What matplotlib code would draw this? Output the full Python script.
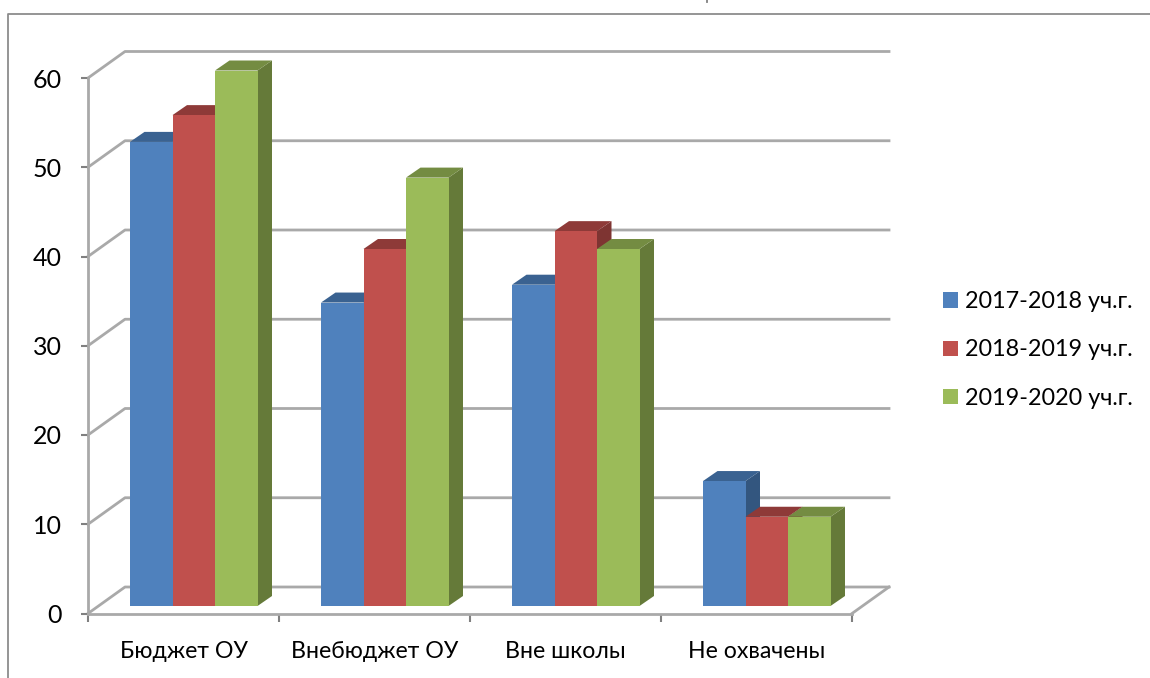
import matplotlib
matplotlib.use('Agg')
import matplotlib.pyplot as plt
from matplotlib.patches import Patch, Polygon

#data
categories = ['Бюджет ОУ', 'Внебюджет ОУ', 'Вне школы', 'Не охвачены']
series_names = ['2017-2018 уч.г.', '2018-2019 уч.г.', '2019-2020 уч.г.']
values_2017 = [52, 34, 36, 14]
values_2018 = [55, 40, 42, 10]
values_2019 = [60, 48, 40, 10]
y_ticks = [0, 10, 20, 30, 40, 50, 60]

#colors: front, top, side
colors = [('#4F81BD', '#3A6291', '#33567F'),
          ('#C0504D', '#8E3A38', '#7E3432'),
          ('#9BBB59', '#748C42', '#657A39')]
grid_color = '#A9A9A9'
plt.rcParams['font.family'] = ['Lato', 'Open Sans', 'DejaVu Sans']

W, H = 1150, 678
fig = plt.figure(figsize=(W / 100, H / 100), dpi=100)
ax = fig.add_axes([88 / W, 1 - 613.5 / H, 764 / W, 535.5 / H])
ax.set_xlim(0, 4)
ax.set_ylim(0, 60)

#oblique offsets in data units
px_x = 4 / 764
px_y = 60 / 535.5
back_x = 37 * px_x
back_y = 26.5 * px_y
bar_w = 42.5 * px_x
bar_start = 42 * px_x
floor_y = 7.5 * px_y
depth_x = 14.5 * px_x
depth_y = 10 * px_y

#back grid lines and the slanted wall lines
for v in y_ticks:
    ax.plot([0, back_x, 4 + back_x], [v, v + back_y, v + back_y],
            color=grid_color, lw=2, clip_on=False, zorder=1)
ax.plot([4, 4 + back_x], [0, back_y], color=grid_color, lw=2, clip_on=False, zorder=1)

#bars
all_values = [values_2017, values_2018, values_2019]
z = 3
for c in range(len(categories)):
    for s in range(3):
        v = all_values[s][c]
        x0 = c + bar_start + s * bar_w
        x1 = x0 + bar_w
        y0 = floor_y
        top = v + floor_y
        front, top_col, side = colors[s]
        ax.add_patch(Polygon([(x1, y0), (x1 + depth_x, y0 + depth_y), (x1 + depth_x, top + depth_y), (x1, top)],
                             fc=side, ec='none', clip_on=False, zorder=z))
        ax.add_patch(Polygon([(x0, top), (x0 + depth_x, top + depth_y), (x1 + depth_x, top + depth_y), (x1, top)],
                             fc=top_col, ec='none', clip_on=False, zorder=z))
        ax.add_patch(Polygon([(x0, y0), (x1, y0), (x1, top), (x0, top)],
                             fc=front, ec='none', clip_on=False, zorder=z + 0.5))
        z += 1

#axes
for name in ['top', 'right']:
    ax.spines[name].set_visible(False)
for name in ['left', 'bottom']:
    ax.spines[name].set_color(grid_color)
    ax.spines[name].set_linewidth(2)
ax.set_yticks(y_ticks)
ax.set_xticks([0, 1, 2, 3, 4])
ax.set_xticklabels([])
ax.set_xticks([0.5, 1.5, 2.5, 3.5], categories, minor=True)
ax.tick_params(axis='y', length=5, width=1.5, color='#808080', labelsize=18, pad=14)
ax.tick_params(axis='x', which='major', length=6, width=1.5, color='#808080')
ax.tick_params(axis='x', which='minor', length=0, labelsize=16.7, pad=20)
ax.patch.set_alpha(0)

#legend
handles = [Patch(fc=colors[i][0], ec='none', label=series_names[i]) for i in range(3)]
fig.legend(handles=handles, loc='center left', bbox_to_anchor=(943 / W, 1 - 350 / H),
           frameon=False, fontsize=16.8, handlelength=0.65, handleheight=0.65,
           handletextpad=0.28, labelspacing=1.17, borderpad=0, borderaxespad=0)

#outer chart frame
fig.add_artist(plt.Line2D([8 / W, 8 / W, 1], [0, 1 - 13.5 / H, 1 - 13.5 / H], color='#8C8C8C', lw=1.3))
fig.add_artist(plt.Line2D([707 / W, 707 / W], [1, 1 - 2 / H], color='#808080', lw=1.3))

fig.savefig('out.png', dpi=100)
